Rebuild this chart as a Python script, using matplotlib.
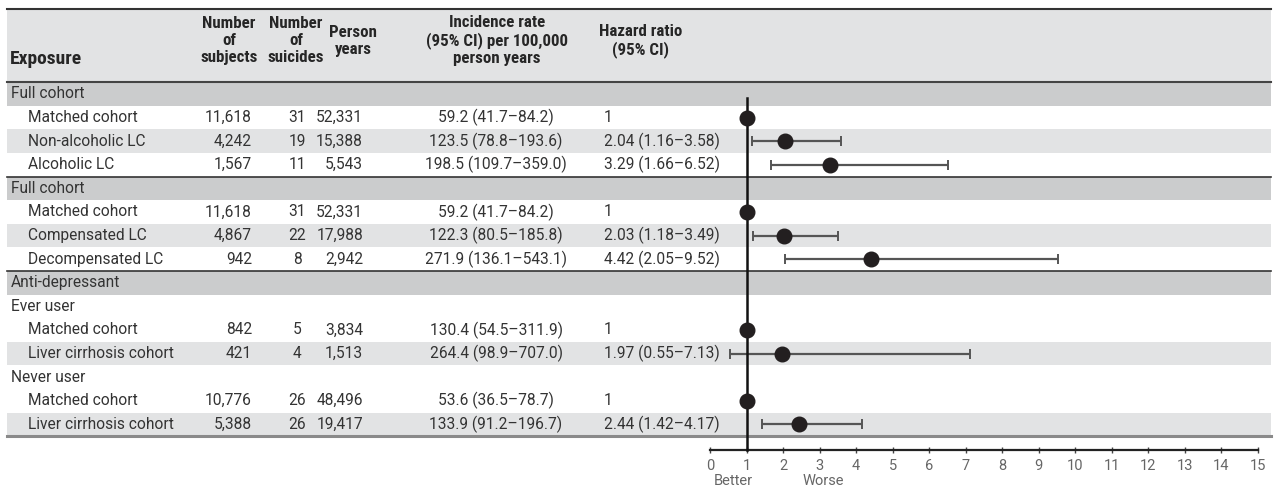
import numpy as np
import matplotlib
matplotlib.use("Agg")
import matplotlib.pyplot as plt

plt.rcParams['font.family'] = ['Roboto', 'DejaVu Sans']

# ---------------- data ----------------
labels = ["Full cohort", "Matched cohort", "Non-alcoholic LC", "Alcoholic LC",
          "Full cohort", "Matched cohort", "Compensated LC", "Decompensated LC",
          "Anti-depressant", "Ever user", "Matched cohort", "Liver cirrhosis cohort",
          "Never user", "Matched cohort", "Liver cirrhosis cohort"]
indent = [0, 1, 1, 1, 0, 1, 1, 1, 0, 0, 1, 1, 0, 1, 1]
row_kind = ["section", "", "light", "", "section", "", "light", "",
            "section", "", "", "light", "", "", "light"]
subjects = ["", "11,618", "4,242", "1,567", "", "11,618", "4,867", "942",
            "", "", "842", "421", "", "10,776", "5,388"]
suicides = ["", "31", "19", "11", "", "31", "22", "8",
            "", "", "5", "4", "", "26", "26"]
person_years = ["", "52,331", "15,388", "5,543", "", "52,331", "17,988", "2,942",
                "", "", "3,834", "1,513", "", "48,496", "19,417"]
incidence = ["", "59.2 (41.7\u201384.2)", "123.5 (78.8\u2013193.6)", "198.5 (109.7\u2013359.0)",
             "", "59.2 (41.7\u201384.2)", "122.3 (80.5\u2013185.8)", "271.9 (136.1\u2013543.1)",
             "", "", "130.4 (54.5\u2013311.9)", "264.4 (98.9\u2013707.0)",
             "", "53.6 (36.5\u201378.7)", "133.9 (91.2\u2013196.7)"]
hr_text = ["", "1", "2.04 (1.16\u20133.58)", "3.29 (1.66\u20136.52)",
           "", "1", "2.03 (1.18\u20133.49)", "4.42 (2.05\u20139.52)",
           "", "", "1", "1.97 (0.55\u20137.13)", "", "1", "2.44 (1.42\u20134.17)"]
nan = np.nan
hr = [nan, 1, 2.04, 3.29, nan, 1, 2.03, 4.42, nan, nan, 1, 1.97, nan, 1, 2.44]
hr_lo = [nan, nan, 1.16, 1.66, nan, nan, 1.18, 2.05, nan, nan, nan, 0.55, nan, nan, 1.42]
hr_hi = [nan, nan, 3.58, 6.52, nan, nan, 3.49, 9.52, nan, nan, nan, 7.13, nan, nan, 4.17]
ticks = list(range(0, 16))
headers = ["Exposure", "Number\nof\nsubjects", "Number\nof\nsuicides", "Person\nyears",
           "Incidence rate\n(95% CI) per 100,000\nperson years", "Hazard ratio\n(95% CI)"]

# ---------------- layout ----------------
W, H = 1274, 493
fig = plt.figure(figsize=(W / 100, H / 100), dpi=100)
ylim = (16.91, -3.983)

ax = fig.add_axes([0, 0, 1, 1])
ax.set_xlim(0, W)
ax.set_ylim(*ylim)
ax.axis('off')

DARK = "#cbcccd"
LIGHT = "#e2e3e4"
TXT = "#333333"
HTXT = "#262626"
x0f, x1f = 7 / W, 1271 / W

# header background
ax.axhspan(-3.6, -0.5, xmin=x0f, xmax=x1f, color=LIGHT, zorder=0, lw=0)
n = len(labels)
for i, k in enumerate(row_kind):
    if k == "section":
        ax.axhspan(i - 0.5, i + 0.5, xmin=x0f, xmax=x1f, color=DARK, zorder=0, lw=0)
    elif k == "light":
        ax.axhspan(i - 0.5, i + 0.5, xmin=x0f, xmax=x1f, color=LIGHT, zorder=0, lw=0)

# rules
ax.plot([7, 1271], [-3.6, -3.6], color="#333333", lw=1.5, zorder=2)
ax.plot([7, 1271], [-0.52, -0.52], color="#444444", lw=1.5, zorder=2)
for yb in (3.5, 7.5):
    ax.plot([7, 1271], [yb, yb], color="#333333", lw=1.2, zorder=2)
ax.plot([7, 1271], [14.5, 14.5], color="#8a8a8a", lw=2.2, zorder=2)

# headers
HFONT = ['Roboto Condensed', 'Roboto', 'DejaVu Sans']
hfs = 12.2
hy = -2.25
ax.text(10, -1.48, headers[0], fontsize=14, fontweight='bold', color=HTXT,
        ha='left', va='center', family=HFONT)
for xh, t in zip([229, 296, 353, 497, 641], headers[1:]):
    ax.text(xh, hy, t, fontsize=hfs, fontweight='bold', color=HTXT, family=HFONT,
            ha='center', va='center', linespacing=1.17)

# body
fs = 11.2
for i in range(n):
    xl = 11 if indent[i] == 0 else 28
    ax.text(xl, i, labels[i], fontsize=fs, color=TXT, ha='left', va='center')
    ax.text(252, i, subjects[i], fontsize=fs, color=TXT, ha='right', va='center')
    ax.text(297, i, suicides[i], fontsize=fs, color=TXT, ha='center', va='center')
    ax.text(363, i, person_years[i], fontsize=fs, color=TXT, ha='right', va='center')
    ax.text(496, i, incidence[i], fontsize=fs, color=TXT, ha='center', va='center')
    ax.text(604, i, hr_text[i], fontsize=fs, color=TXT, ha='left', va='center')

# ---------------- forest ----------------
fx0, fx1 = 710 / W, 1258 / W
fa = fig.add_axes([fx0, 0, fx1 - fx0, 1])
fa.set_facecolor('none')
fa.set_xlim(0, 15)
fa.set_ylim(*ylim)
axis_y = 15.08
for s in ('top', 'right', 'left'):
    fa.spines[s].set_visible(False)
fa.spines['bottom'].set_position(('data', axis_y))
fa.spines['bottom'].set_color("#222222")
fa.spines['bottom'].set_linewidth(1.6)
fa.set_yticks([])
fa.set_xticks(ticks)
fa.tick_params(axis='x', direction='inout', length=5, width=1, color="#444444",
               labelsize=10.5, labelcolor="#666666", pad=4)

ys = np.arange(n)
hr_a = np.array(hr, dtype=float)
lo_a = np.array(hr_lo, dtype=float)
hi_a = np.array(hr_hi, dtype=float)
m = ~np.isnan(lo_a)
fa.errorbar(hr_a[m], ys[m], xerr=[hr_a[m] - lo_a[m], hi_a[m] - hr_a[m]], fmt='none',
            ecolor="#555555", elinewidth=1.6, capsize=3.5, capthick=1.4, zorder=3)
fa.plot([1, 1], [0.17, axis_y], color="#111111", lw=1.8, zorder=4)
mm = ~np.isnan(hr_a)
fa.plot(hr_a[mm], ys[mm], 'o', color="#231f20", markersize=10.5, zorder=5,
        clip_on=False)

fa.text(0.65, 16.4, "Better", fontsize=10.5, color="#666666",
        ha='center', va='center')
fa.text(3.1, 16.4, "Worse", fontsize=10.5, color="#666666",
        ha='center', va='center')

fig.savefig("out.png", dpi=100)
